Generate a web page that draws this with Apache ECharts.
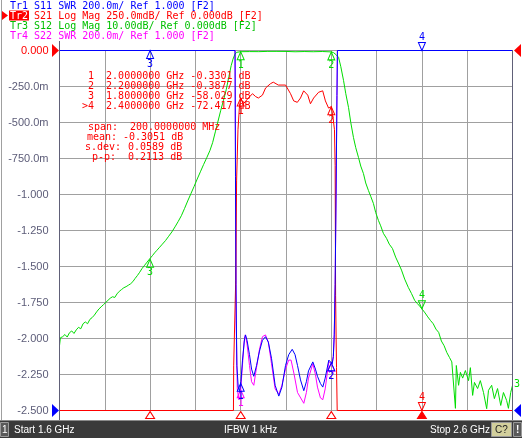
<!DOCTYPE html>
<html><head><meta charset="utf-8">
<script src="https://cdn.jsdelivr.net/npm/echarts@6/dist/echarts.min.js"></script>
<style>html,body{margin:0;padding:0;background:#fff}#c{width:522px;height:438px}</style>
</head><body><div id="c"></div>
<script>
// ---------- data ----------
const yTickLabels = ['0.000','-250.0m','-500.0m','-750.0m','-1.000','-1.250','-1.500','-1.750','-2.000','-2.250','-2.500'];
const traceHeaders = [
  'Tr1 S11 SWR 200.0m/ Ref 1.000 [F2]',
  'Tr2 S21 Log Mag 250.0mdB/ Ref 0.000dB [F2]',
  'Tr3 S12 Log Mag 10.00dB/ Ref 0.000dB [F2]',
  'Tr4 S22 SWR 200.0m/ Ref 1.000 [F2]'
];
const markerFreqs = [2.0, 2.2, 1.8, 2.4];
const markerNames = ['1','2','3','4'];
const markerTable = [
  ' 1  2.0000000 GHz -0.3301 dB',
  ' 2  2.2000000 GHz -0.3877 dB',
  ' 3  1.8000000 GHz -58.029 dB',
  '>4  2.4000000 GHz -72.417 dB'
];
const statLabels = ['span:', 'mean:', 's.dev:', 'p-p:'];
const statValues = ['200.0000000 MHz', '-0.3051 dB', '0.0589 dB', '0.2113 dB'];
const statusTexts = ['Start 1.6 GHz', 'IFBW 1 kHz', 'Stop 2.6 GHz'];

// S12 (Tr3) log mag, dB
const s12Freq = [1.600,1.602,1.607,1.612,1.617,1.622,1.627,1.632,1.637,1.642,1.647,1.652,1.657,1.662,1.667,1.672,1.677,1.682,1.687,1.692,1.697,1.702,1.707,1.712,1.717,1.722,1.727,1.732,1.737,1.742,1.747,1.752,1.757,1.762,1.767,1.772,1.777,1.782,1.787,1.792,1.797,1.800,1.805,1.810,1.815,1.820,1.827,1.834,1.841,1.848,1.855,1.862,1.869,1.876,1.883,1.890,1.897,1.904,1.911,1.918,1.925,1.932,1.938,1.944,1.950,1.956,1.962,1.968,1.974,1.979,1.983,1.987,1.991,1.995,2.000,2.020,2.040,2.060,2.080,2.100,2.120,2.140,2.160,2.180,2.200,2.205,2.210,2.216,2.221,2.227,2.232,2.238,2.243,2.249,2.254,2.260,2.265,2.271,2.276,2.282,2.287,2.293,2.298,2.304,2.309,2.315,2.322,2.328,2.335,2.342,2.349,2.355,2.362,2.370,2.377,2.384,2.390,2.395,2.401,2.407,2.413,2.419,2.425,2.431,2.437,2.443,2.449,2.455,2.461,2.466,2.470,2.474,2.476,2.481,2.485,2.490,2.496,2.503,2.507,2.512,2.516,2.523,2.529,2.536,2.543,2.547,2.554,2.560,2.567,2.574,2.580,2.587,2.591,2.596,2.600];
const s12Db = [-82.0,-79.8,-79.5,-78.9,-79.6,-78.4,-77.9,-78.6,-77.6,-76.9,-77.3,-75.9,-75.4,-75.9,-74.7,-74.2,-73.5,-72.6,-71.8,-71.2,-70.6,-70.0,-69.4,-68.8,-68.4,-68.6,-67.6,-66.9,-66.4,-65.9,-65.6,-65.2,-64.8,-64.2,-63.3,-62.5,-61.6,-60.6,-59.8,-59.0,-58.2,-58.0,-57.0,-56.2,-55.5,-54.8,-53.8,-52.8,-51.6,-50.4,-49.0,-47.5,-45.9,-43.9,-41.8,-39.8,-37.8,-35.7,-33.7,-31.7,-29.8,-27.8,-25.6,-22.6,-19.6,-16.6,-13.8,-10.9,-7.2,-4.2,-2.4,-1.1,-0.5,-0.35,-0.33,-0.30,-0.32,-0.24,-0.24,-0.26,-0.35,-0.29,-0.34,-0.28,-0.39,-0.6,-1.1,-1.9,-4.5,-8.3,-12.0,-15.8,-20.0,-24.2,-27.0,-29.7,-32.1,-34.2,-36.8,-38.9,-40.5,-42.5,-45.0,-47.2,-48.7,-50.8,-52.2,-53.8,-55.0,-57.4,-59.3,-61.0,-63.5,-65.8,-67.5,-69.4,-70.3,-71.0,-71.9,-72.9,-74.0,-75.0,-75.9,-77.4,-78.3,-80.7,-82.0,-83.9,-85.3,-86.5,-87.0,-99.4,-87.5,-93.0,-89.4,-91.0,-88.9,-91.7,-88.1,-95.8,-92.2,-93.9,-91.7,-95.0,-99.5,-94.4,-93.0,-96.7,-93.9,-98.6,-95.0,-97.2,-99.4,-95.0,-93.0];

// S21 (Tr2) log mag, dB (values below -2.5 dB shown at the bottom edge)
const s21Freq = [1.600,1.984,1.9845,1.9885,1.989,1.991,1.994,1.997,2.000,2.006,2.017,2.026,2.033,2.039,2.048,2.055,2.066,2.072,2.083,2.099,2.110,2.117,2.125,2.132,2.139,2.148,2.154,2.161,2.172,2.181,2.187,2.194,2.200,2.204,2.207,2.2085,2.2095,2.2115,2.213,2.600];
const s21Db = [-2.5,-2.5,-2.19,-2.19,-1.6,-0.9,-0.55,-0.40,-0.33,-0.37,-0.33,-0.30,-0.32,-0.33,-0.31,-0.26,-0.23,-0.22,-0.24,-0.24,-0.30,-0.35,-0.36,-0.33,-0.28,-0.31,-0.37,-0.33,-0.29,-0.28,-0.35,-0.40,-0.39,-0.47,-0.55,-0.80,-1.7,-2.2,-2.5,-2.5];

// S11 (Tr1) SWR (values above 3.0 shown at the top edge)
const s11Freq = [1.600,1.9875,1.9885,1.9895,1.9915,1.9945,1.9975,2.0005,2.004,2.0085,2.0106,2.014,2.0194,2.024,2.0289,2.035,2.0415,2.048,2.0547,2.061,2.068,2.076,2.0841,2.091,2.0989,2.106,2.1137,2.120,2.1254,2.132,2.1393,2.145,2.1497,2.1592,2.165,2.1695,2.176,2.1812,2.1865,2.1945,2.1985,2.2020,2.2045,2.2065,2.2085,2.2105,2.2125,2.2135,2.600];
const s11Swr = [3.0,3.0,2.3,1.7,1.25,1.13,1.11,1.16,1.28,1.40,1.42,1.39,1.31,1.23,1.19,1.25,1.33,1.39,1.41,1.38,1.29,1.14,1.08,1.13,1.25,1.31,1.34,1.31,1.25,1.17,1.11,1.16,1.22,1.27,1.23,1.19,1.15,1.13,1.18,1.28,1.27,1.26,1.30,1.42,1.70,2.20,2.75,3.0,3.0];

// S22 (Tr4) SWR
const s22Freq = [1.600,1.9875,1.9888,1.9900,1.9925,1.9960,1.9990,2.0030,2.0075,2.0102,2.014,2.0194,2.024,2.0289,2.035,2.0415,2.048,2.0547,2.061,2.068,2.076,2.0841,2.091,2.0989,2.106,2.1112,2.118,2.1254,2.1393,2.145,2.1497,2.1592,2.165,2.1695,2.176,2.1812,2.1865,2.1945,2.2020,2.2045,2.2065,2.2085,2.2105,2.2125,2.2135,2.600];
const s22Swr = [3.0,3.0,2.2,1.5,1.12,1.06,1.08,1.22,1.38,1.42,1.37,1.25,1.16,1.14,1.24,1.34,1.41,1.42,1.38,1.26,1.12,1.09,1.14,1.23,1.28,1.28,1.20,1.10,1.04,1.10,1.18,1.26,1.20,1.13,1.07,1.06,1.12,1.27,1.26,1.30,1.42,1.70,2.20,2.75,3.0,3.0];

// ---------- helpers ----------
const MONO = '"DejaVu Sans Mono", monospace';
const SANS = '"Liberation Sans", sans-serif';
const C_BLUE = '#0000ff', C_RED = '#ff0000', C_GREEN = '#00dd00', C_MAG = '#ff00ff';
const C_GREEN_T = '#00c000';

function pairs(fs, vs) { return fs.map((f, i) => [f, vs[i]]); }
function interp(fs, vs, f) {
  for (let i = 1; i < fs.length; i++) {
    if (fs[i] >= f) { const t = (f - fs[i-1]) / (fs[i] - fs[i-1]); return vs[i-1] + t * (vs[i] - vs[i-1]); }
  }
  return vs[vs.length - 1];
}
const DOWN_TRI = 'path://M0,0L10,0L5,10Z';
function markers(fs, vs, color, lo, hi, specs) {
  return specs.map(s => {
    let v = interp(fs, vs, markerFreqs[s.m]);
    v = Math.max(lo, Math.min(hi, v));
    const down = s.dir === 'down';
    return {
      coord: [markerFreqs[s.m], v],
      symbol: down ? DOWN_TRI : 'triangle',
      symbolSize: [7, 8],
      symbolOffset: [0, down ? -4 : 4],
      itemStyle: { color: s.fill ? color : 'rgba(0,0,0,0)', borderColor: color, borderWidth: 1 },
      label: s.noLabel ? { show: false } : {
        show: true, formatter: markerNames[s.m], position: down ? 'top' : 'bottom', distance: 0,
        color: color, fontSize: 10, fontFamily: MONO
      }
    };
  });
}
function lineSeries(name, fs, vs, yIdx, color, z, mk) {
  return {
    type: 'line', name, yAxisIndex: yIdx, data: pairs(fs, vs), showSymbol: false, symbol: 'none',
    clip: false, z, lineStyle: { color, width: 1 }, animation: false, silent: true,
    markPoint: { data: mk, animation: false, silent: true, z: z + 1 }
  };
}
function txt(x, y, text, fill, font, z, align) {
  return { type: 'text', x, y, z, style: { text, fill, font, textAlign: align || 'left', align: align || 'left', textVerticalAlign: 'middle', verticalAlign: 'middle' } };
}

// ---------- chart ----------
const chart = echarts.init(document.getElementById('c'), null, { renderer: 'canvas' });
const gridL = 59.5, gridT = 50.5, gridW = 453, gridH = 360;

const graphic = [];
// status bar
graphic.push({ type: 'rect', shape: { x: 0, y: 421, width: 522, height: 17 }, style: { fill: '#3a3a3a' }, z: 100 });
graphic.push({ type: 'rect', shape: { x: 0, y: 420, width: 522, height: 1 }, style: { fill: '#8a8a8a' }, z: 100 });
graphic.push({ type: 'rect', shape: { x: 0.5, y: 422.5, width: 8, height: 14 }, style: { fill: '#5a5a5a', stroke: '#9a9a9a', lineWidth: 1 }, z: 101 });
graphic.push(txt(2, 430, '1', '#ffffff', '10px ' + SANS, 102));
graphic.push(txt(14, 430, statusTexts[0], '#ffffff', '10px ' + SANS, 102));
graphic.push(txt(224, 430, statusTexts[1], '#ffffff', '10px ' + SANS, 102));
graphic.push(txt(430, 430, statusTexts[2], '#ffffff', '10px ' + SANS, 102));
graphic.push({ type: 'rect', shape: { x: 491.5, y: 422.5, width: 20, height: 14 }, style: { fill: '#d2cf9c', stroke: '#9a9a9a', lineWidth: 1 }, z: 101 });
graphic.push(txt(495, 430, 'C?', '#202020', '10px ' + SANS, 102));
graphic.push({ type: 'rect', shape: { x: 513.5, y: 422.5, width: 8, height: 14 }, style: { fill: '#5a5a5a', stroke: '#9a9a9a', lineWidth: 1 }, z: 101 });
graphic.push(txt(516, 430, '!', '#ffffff', 'bold 10px ' + SANS, 102));

// frame lines
graphic.push({ type: 'line', shape: { x1: 1.5, y1: 0, x2: 1.5, y2: 420 }, style: { stroke: '#a0a0a0', lineWidth: 1 }, z: 50 });
graphic.push({ type: 'line', shape: { x1: 59.5, y1: 41, x2: 59.5, y2: 420 }, style: { stroke: '#606078', lineWidth: 1 }, z: 50 });
graphic.push({ type: 'line', shape: { x1: 512.5, y1: 50, x2: 512.5, y2: 420 }, style: { stroke: '#606078', lineWidth: 1 }, z: 50 });

// header lines
const headerColors = [C_BLUE, C_RED, C_GREEN_T, C_MAG];
traceHeaders.forEach((t, i) => {
  graphic.push(txt(10, 6 + i * 10, i === 1 ? t.slice(0, 3) : t, i === 1 ? '#ffffff' : headerColors[i], '10px ' + MONO, 61));
});
graphic.push({ type: 'rect', shape: { x: 9, y: 10.5, width: 20, height: 10 }, style: { fill: C_RED }, z: 59 });
graphic.push(txt(10 + 4 * 6.02, 16, traceHeaders[1].slice(4), C_RED, '10px ' + MONO, 61));
graphic.push({ type: 'polygon', shape: { points: [[2, 11], [8, 15.5], [2, 20]] }, style: { fill: C_RED }, z: 60 });

// reference position triangles
graphic.push({ type: 'polygon', shape: { points: [[52, 44], [59, 50.5], [52, 57]] }, style: { fill: C_RED }, z: 60 });
graphic.push({ type: 'polygon', shape: { points: [[52, 404], [59, 410.5], [52, 417]] }, style: { fill: C_BLUE }, z: 60 });
graphic.push({ type: 'polygon', shape: { points: [[521, 44], [514, 50.5], [521, 57]] }, style: { fill: C_RED }, z: 60 });
graphic.push({ type: 'polygon', shape: { points: [[521, 404], [514, 410.5], [521, 417]] }, style: { fill: C_BLUE }, z: 60 });
graphic.push(txt(514, 384, '3', C_GREEN, '10px ' + MONO, 60));

// marker table
markerTable.forEach((t, i) => {
  graphic.push(txt(82, 76 + i * 10, t, C_RED, '10px ' + MONO, 60));
});
const statLabelRight = [118, 117, 121, 116];
const statValueX = [130, 123, 128, 128];
statLabels.forEach((t, i) => {
  graphic.push(txt(statLabelRight[i], 127.5 + i * 10, t, C_RED, '10px ' + MONO, 60, 'right'));
  graphic.push(txt(statValueX[i], 127.5 + i * 10, statValues[i], C_RED, '10px ' + MONO, 60));
});

const up = m => ({ m, dir: 'up' });
const dn = m => ({ m, dir: 'down' });

const redMarks = markers(s21Freq, s21Db, C_RED, -2.5, 0, [up(0), up(1), dn(3)]);
// stimulus indicators below the grid
markerFreqs.forEach((f, i) => {
  redMarks.push({
    coord: [f, -2.5], symbol: 'triangle', symbolSize: [9, 7], symbolOffset: [0, 4.5],
    itemStyle: { color: i === 3 ? C_RED : 'rgba(0,0,0,0)', borderColor: C_RED, borderWidth: 1 },
    label: { show: false }
  });
});

const option = {
  animation: false,
  backgroundColor: '#ffffff',
  grid: { left: gridL, top: gridT, width: gridW, height: gridH, containLabel: false },
  xAxis: {
    type: 'value', min: 1.6, max: 2.6, interval: 0.1,
    axisLine: { show: false }, axisTick: { show: false }, axisLabel: { show: false },
    splitLine: { show: true, lineStyle: { color: '#a0a0a0', width: 1 } }
  },
  yAxis: [
    {
      type: 'value', min: -2.5, max: 0, interval: 0.25,
      axisLine: { show: false }, axisTick: { show: false },
      splitLine: { show: true, lineStyle: { color: '#a0a0a0', width: 1 } },
      axisLabel: {
        margin: 11, fontSize: 11, fontFamily: SANS,
        formatter: v => yTickLabels[Math.round(-v / 0.25)],
        color: v => (Math.abs(v) < 1e-9 ? C_RED : '#5c5c78')
      }
    },
    { type: 'value', min: -100, max: 0, show: false, splitLine: { show: false } },
    { type: 'value', min: 1, max: 3, show: false, splitLine: { show: false } }
  ],
  series: [
    lineSeries('S22', s22Freq, s22Swr, 2, C_MAG, 10, markers(s22Freq, s22Swr, C_MAG, 1, 3, [up(0), up(1)])),
    lineSeries('S12', s12Freq, s12Db, 1, C_GREEN, 11, markers(s12Freq, s12Db, C_GREEN, -100, 0, [up(0), up(1), up(2), dn(3)])),
    lineSeries('S21', s21Freq, s21Db, 0, C_RED, 12, redMarks),
    lineSeries('S11', s11Freq, s11Swr, 2, C_BLUE, 13, markers(s11Freq, s11Swr, C_BLUE, 1, 3, [up(0), up(1), up(2), dn(3)]))
  ],
  graphic
};
chart.setOption(option);
</script></body></html>
